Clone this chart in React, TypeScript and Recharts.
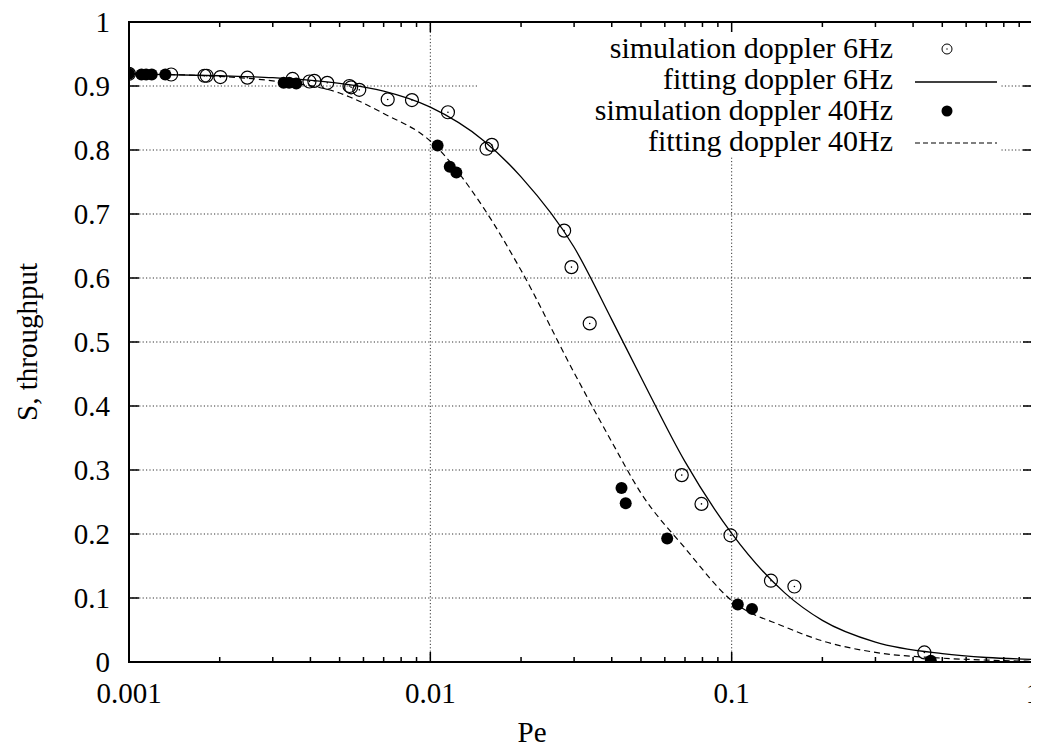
import {
  ComposedChart,
  Legend,
  Line,
  ReferenceLine,
  Scatter,
  XAxis,
  YAxis,
} from "recharts";

// gnuplot-style throughput vs Pe plot, log x axis
const FONT = '"Liberation Serif", "Times New Roman", serif';
const INK = "#000";
const GRID = "#333";

const WIDTH = 1031;
const HEIGHT = 741;
const MARGIN = { top: 14, right: 6, bottom: 0, left: 0 };
const Y_AXIS_W = 121;
const X_AXIS_H = 87;
// plot box edges, used for the frame and the mirrored ticks on top/right
const PLOT_LEFT = MARGIN.left + Y_AXIS_W;
const PLOT_TOP = MARGIN.top;
const PLOT_RIGHT = WIDTH - MARGIN.right;
const PLOT_BOTTOM = HEIGHT - MARGIN.bottom - X_AXIS_H;

const X_MAJOR = [0.001, 0.01, 0.1, 1];
const X_MAJOR_LABELS = ["0.001", "0.01", "0.1", "1"];
const X_MINOR = [
  0.002, 0.003, 0.004, 0.005, 0.006, 0.007, 0.008, 0.009,
  0.02, 0.03, 0.04, 0.05, 0.06, 0.07, 0.08, 0.09,
  0.2, 0.3, 0.4, 0.5, 0.6, 0.7, 0.8, 0.9,
];
const Y_TICKS = [0, 0.1, 0.2, 0.3, 0.4, 0.5, 0.6, 0.7, 0.8, 0.9, 1];
const Y_TICK_LABELS = ["0", "0.1", "0.2", "0.3", "0.4", "0.5", "0.6", "0.7", "0.8", "0.9", "1"];

// simulation doppler 6Hz
const SIM6_PE = [
  0.001, 0.00138, 0.00178, 0.00181, 0.00201, 0.00247, 0.00349, 0.00397, 0.00412,
  0.00455, 0.00539, 0.00546, 0.00581, 0.00722, 0.00869, 0.01144, 0.01536, 0.016,
  0.0278, 0.0294, 0.0338, 0.0683, 0.0794, 0.0991, 0.135, 0.1615, 0.436,
];
const SIM6_S = [
  0.919, 0.918, 0.916, 0.916, 0.914, 0.913, 0.911, 0.907, 0.908,
  0.905, 0.9, 0.898, 0.894, 0.879, 0.878, 0.859, 0.802, 0.808,
  0.674, 0.617, 0.529, 0.292, 0.247, 0.198, 0.127, 0.118, 0.015,
];

// simulation doppler 40Hz
const SIM40_PE = [
  0.001, 0.0011, 0.00114, 0.00119, 0.00132, 0.00326, 0.0034, 0.00359,
  0.01057, 0.0116, 0.0122, 0.0431, 0.0445, 0.0611, 0.1048, 0.1168, 0.458,
];
const SIM40_S = [
  0.919, 0.918, 0.918, 0.918, 0.918, 0.905, 0.905, 0.904,
  0.807, 0.774, 0.765, 0.272, 0.248, 0.193, 0.09, 0.083, 0.002,
];

// fitted curves
const FIT_PE = [
  0.001, 0.002, 0.003, 0.005, 0.007, 0.01, 0.015, 0.02, 0.03, 0.04,
  0.05, 0.07, 0.1, 0.15, 0.2, 0.3, 0.5, 0.7, 1,
];
const FIT6_S = [
  0.919, 0.916, 0.913, 0.904, 0.892, 0.867, 0.815, 0.758, 0.648, 0.535,
  0.445, 0.313, 0.201, 0.108, 0.065, 0.031, 0.013, 0.007, 0.004,
];
const FIT40_S = [
  0.919, 0.915, 0.908, 0.889, 0.857, 0.814, 0.71, 0.612, 0.452, 0.344,
  0.264, 0.178, 0.096, 0.055, 0.033, 0.015, 0.006, 0.003, 0.001,
];

const zip = (xs: number[], ys: number[]) => xs.map((x, i) => ({ x, y: ys[i] }));
const sim6 = zip(SIM6_PE, SIM6_S);
const sim40 = zip(SIM40_PE, SIM40_S);
const fit6 = zip(FIT_PE, FIT6_S);
const fit40 = zip(FIT_PE, FIT40_S);

// where the opaque key box cuts the grid
const KEY_LEFT_PE = 0.0143;
const KEY_RIGHT_PE = 0.786;
const KEY_BOTTOM_S = 0.788;

const X_ALL = [...X_MAJOR, ...X_MINOR];
const isMajor = (v: number) => X_MAJOR.some((m) => Math.abs(m - v) < 1e-9);

function BottomTick({ x, y, payload }: any) {
  const major = isMajor(payload.value);
  const len = major ? 10 : 5;
  const idx = X_MAJOR.findIndex((m) => Math.abs(m - payload.value) < 1e-9);
  return (
    <g>
      <path
        d={`M${x},${y}V${y - len}M${x},${PLOT_TOP}V${PLOT_TOP + len}`}
        stroke={INK}
        strokeWidth={1.5}
        fill="none"
      />
      {major && (
        <text x={x} y={y + 41} textAnchor="middle" fontFamily={FONT} fontSize={29} fill={INK}>
          {X_MAJOR_LABELS[idx]}
        </text>
      )}
    </g>
  );
}

function LeftTick({ x, y, index }: any) {
  return (
    <g>
      <path
        d={`M${x},${y}H${x + 10}M${PLOT_RIGHT},${y}H${PLOT_RIGHT - 10}`}
        stroke={INK}
        strokeWidth={1.5}
        fill="none"
      />
      <text x={x - 19} y={y + 10} textAnchor="end" fontFamily={FONT} fontSize={29} fill={INK}>
        {Y_TICK_LABELS[index]}
      </text>
    </g>
  );
}

function OpenCircle({ cx, cy }: any) {
  return (
    <g>
      <circle cx={cx} cy={cy} r={6.5} fill="none" stroke={INK} strokeWidth={1.2} />
      <circle cx={cx} cy={cy} r={0.8} fill={INK} />
    </g>
  );
}

function FilledCircle({ cx, cy }: any) {
  return <circle cx={cx} cy={cy} r={6} fill={INK} />;
}

const KEY_ROWS = ["simulation doppler 6Hz", "fitting doppler 6Hz", "simulation doppler 40Hz", "fitting doppler 40Hz"];

// key + plot frame, drawn in one overlay the size of the chart
function KeyBox() {
  const base = (i: number) => 50 + 31 * i;
  return (
    <svg width={WIDTH} height={HEIGHT} style={{ display: "block", pointerEvents: "none" }}>
      <rect
        x={PLOT_LEFT}
        y={PLOT_TOP}
        width={PLOT_RIGHT - PLOT_LEFT}
        height={PLOT_BOTTOM - PLOT_TOP}
        fill="none"
        stroke={INK}
        strokeWidth={2}
      />
      {KEY_ROWS.map((t, i) => (
        <text key={t} x={885} y={base(i)} textAnchor="end" fontFamily={FONT} fontSize={30} fill={INK}>
          {t}
        </text>
      ))}
      <circle cx={939} cy={base(0) - 9} r={5} fill="none" stroke={INK} strokeWidth={1} />
      <circle cx={939} cy={base(0) - 9} r={0.7} fill={INK} />
      <line x1={907} x2={989} y1={base(1) - 7} y2={base(1) - 7} stroke={INK} strokeWidth={1.3} />
      <circle cx={939} cy={base(2) - 9} r={5.5} fill={INK} />
      <line x1={907} x2={989} y1={base(3) - 8} y2={base(3) - 8} stroke={INK} strokeWidth={1.2} strokeDasharray="5 3" />
    </svg>
  );
}

function YLabel({ viewBox }: any) {
  const cy = viewBox.y + viewBox.height / 2;
  return (
    <text transform={`translate(29, ${cy}) rotate(-90)`} textAnchor="middle" fontFamily={FONT} fontSize={29} fill={INK}>
      S, throughput
    </text>
  );
}

const gridProps = { stroke: GRID, strokeDasharray: "1.2 2.2", strokeWidth: 1, xAxisId: "b", yAxisId: "l" };

export default function App() {
  return (
    <ComposedChart width={WIDTH} height={HEIGHT} margin={MARGIN}>
      <XAxis
        xAxisId="b"
        dataKey="x"
        type="number"
        scale="log"
        domain={[0.001, 1]}
        ticks={X_ALL}
        interval={0}
        allowDataOverflow
        height={X_AXIS_H}
        tickSize={0}
        tickMargin={0}
        tickLine={false}
        tick={BottomTick}
        axisLine={{ stroke: INK, strokeWidth: 2 }}
        label={{ value: "Pe", position: "insideBottom", offset: 7, dx: -49, fontFamily: FONT, fontSize: 29, fill: INK }}
      />
      <YAxis
        yAxisId="l"
        dataKey="y"
        type="number"
        domain={[0, 1]}
        ticks={Y_TICKS}
        interval={0}
        allowDataOverflow
        width={Y_AXIS_W}
        tickSize={0}
        tickMargin={0}
        tickLine={false}
        tick={LeftTick}
        axisLine={{ stroke: INK, strokeWidth: 2 }}
        label={{ content: YLabel }}
      />

      {/* dotted grid, broken where the key box sits */}
      <ReferenceLine {...gridProps} x={0.01} />
      <ReferenceLine {...gridProps} segment={[{ x: 0.1, y: 0 }, { x: 0.1, y: KEY_BOTTOM_S }]} />
      {Y_TICKS.slice(1, 8).map((v) => (
        <ReferenceLine key={v} {...gridProps} y={v} />
      ))}
      {[0.8, 0.9].map((v) => (
        <ReferenceLine key={`a${v}`} {...gridProps} segment={[{ x: 0.001, y: v }, { x: KEY_LEFT_PE, y: v }]} />
      ))}
      {[0.8, 0.9].map((v) => (
        <ReferenceLine key={`b${v}`} {...gridProps} segment={[{ x: KEY_RIGHT_PE, y: v }, { x: 1, y: v }]} />
      ))}

      <Scatter name="simulation doppler 6Hz" data={sim6} dataKey="y" xAxisId="b" yAxisId="l" shape={OpenCircle} isAnimationActive={false} />
      <Line
        name="fitting doppler 6Hz"
        data={fit6}
        dataKey="y"
        xAxisId="b"
        yAxisId="l"
        type="monotone"
        stroke={INK}
        strokeWidth={1.3}
        dot={false}
        activeDot={false}
        isAnimationActive={false}
      />
      <Scatter name="simulation doppler 40Hz" data={sim40} dataKey="y" xAxisId="b" yAxisId="l" shape={FilledCircle} isAnimationActive={false} />
      <Line
        name="fitting doppler 40Hz"
        data={fit40}
        dataKey="y"
        xAxisId="b"
        yAxisId="l"
        type="monotone"
        stroke={INK}
        strokeWidth={1.2}
        strokeDasharray="6 4"
        dot={false}
        activeDot={false}
        isAnimationActive={false}
      />

      <Legend
        layout="vertical"
        align="center"
        verticalAlign="middle"
        content={() => <KeyBox />}
        wrapperStyle={{ left: 0, top: 0, width: WIDTH, height: HEIGHT, pointerEvents: "none" }}
      />
    </ComposedChart>
  );
}
